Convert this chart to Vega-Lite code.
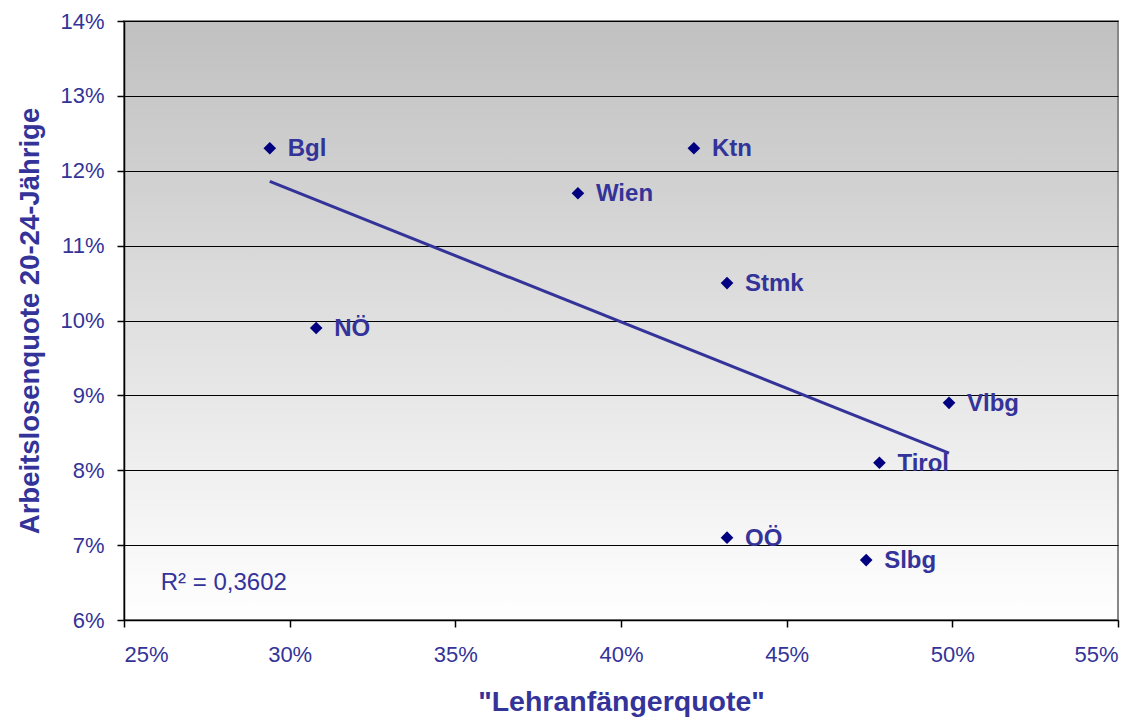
{
  "$schema": "https://vega.github.io/schema/vega-lite/v6.json",
  "width": 994,
  "height": 599,
  "autosize": "none",
  "padding": {"left": 124, "top": 21, "right": 28, "bottom": 100},
  "background": "#ffffff",
  "view": {
    "fill": {"gradient": "linear", "x1": 0, "y1": 0, "x2": 0, "y2": 1, "stops": [{"offset": 0, "color": "#c0c0c0"}, {"offset": 1, "color": "#ffffff"}]},
    "stroke": "#888888",
    "strokeWidth": 2
  },
  "config": {
    "font": "Liberation Sans",
    "axis": {
      "labelFont": "Liberation Sans",
      "labelFontSize": 22,
      "labelColor": "#333399",
      "titleFont": "Liberation Sans",
      "titleFontWeight": "bold",
      "titleColor": "#333399",
      "domainColor": "#000000",
      "domainWidth": 1.5,
      "tickColor": "#000000",
      "tickSize": 7,
      "tickWidth": 1.5
    }
  },
  "datasets": {
    "points": [
      {"land": "Bgl", "lehr": 0.294, "alq": 0.123},
      {"land": "Ktn", "lehr": 0.422, "alq": 0.123},
      {"land": "Wien", "lehr": 0.387, "alq": 0.117},
      {"land": "Stmk", "lehr": 0.432, "alq": 0.105},
      {"land": "NÖ", "lehr": 0.308, "alq": 0.099},
      {"land": "Vlbg", "lehr": 0.499, "alq": 0.089},
      {"land": "Tirol", "lehr": 0.478, "alq": 0.081},
      {"land": "OÖ", "lehr": 0.432, "alq": 0.071},
      {"land": "Slbg", "lehr": 0.474, "alq": 0.068}
    ],
    "note": [
      {"label": "R² = 0,3602", "lehr": 0.2611, "alq": 0.065}
    ]
  },
  "encoding": {
    "x": {"field": "lehr", "type": "quantitative", "scale": {"domain": [0.25, 0.55], "nice": false, "zero": false},
      "axis": {"values": [0.25, 0.3, 0.35, 0.4, 0.45, 0.5, 0.55], "format": ".0%", "grid": false, "title": "\"Lehranfängerquote\"", "titleFontSize": 28.5, "labelPadding": 17, "titlePadding": 22}},
    "y": {"field": "alq", "type": "quantitative", "scale": {"domain": [0.06, 0.14], "nice": false, "zero": false},
      "axis": {"values": [0.06, 0.07, 0.08, 0.09, 0.1, 0.11, 0.12, 0.13, 0.14], "format": ".0%", "grid": true, "gridColor": "#000000", "gridWidth": 1, "title": "Arbeitslosenquote 20-24-Jährige", "titleFontSize": 27.5, "labelPadding": 13, "titlePadding": 15}}
  },
  "layer": [
    {
      "data": {"name": "points"},
      "transform": [{"regression": "alq", "on": "lehr"}],
      "mark": {"type": "line", "color": "#333399", "strokeWidth": 3, "clip": true}
    },
    {
      "data": {"name": "points"},
      "mark": {"type": "point", "shape": "diamond", "filled": true, "color": "#000080", "size": 160, "opacity": 1}
    },
    {
      "data": {"name": "points"},
      "mark": {"type": "text", "align": "left", "baseline": "middle", "dx": 18, "dy": 1, "fontSize": 24, "fontWeight": "bold", "color": "#333399"},
      "encoding": {"text": {"field": "land"}}
    },
    {
      "data": {"name": "note"},
      "mark": {"type": "text", "align": "left", "baseline": "middle", "fontSize": 24, "color": "#333399"},
      "encoding": {"text": {"field": "label"}}
    }
  ]
}
